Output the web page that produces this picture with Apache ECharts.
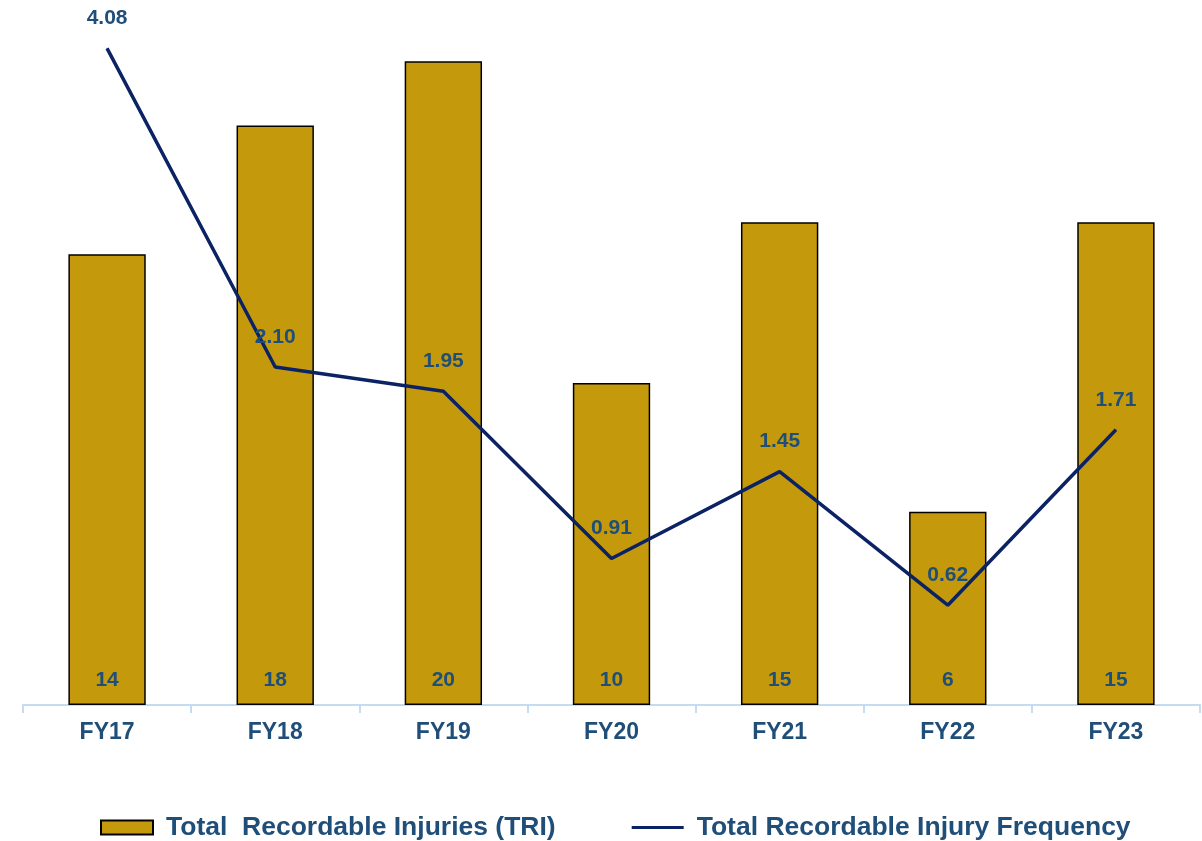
<!DOCTYPE html>
<html>
<head>
<meta charset="utf-8">
<script src="https://cdn.jsdelivr.net/npm/echarts@6/dist/echarts.min.js"></script>
<style>
  html, body { margin: 0; padding: 0; background: #fff; }
  #main { width: 1202px; height: 841px; }
</style>
</head>
<body>
<div id="main"></div>
<script>
const categories = ['FY17', 'FY18', 'FY19', 'FY20', 'FY21', 'FY22', 'FY23'];
const triValues = [14, 18, 20, 10, 15, 6, 15];
const trifValues = [4.08, 2.10, 1.95, 0.91, 1.45, 0.62, 1.71];

const navyText = '#1F4E79';
const font = 'Liberation Sans, Arial, sans-serif';

const myChart = echarts.init(document.getElementById('main'));
const option = {
  animation: false,
  textStyle: { fontFamily: font },
  grid: { left: 23, right: 2, top: 29, bottom: 136 },
  legend: {
    top: 814,
    left: 100,
    padding: 0,
    itemGap: 76,
    itemWidth: 52,
    itemHeight: 14,
    textStyle: { color: navyText, fontSize: 26.5, fontWeight: 'bold', fontFamily: font, padding: [0, 0, 0, 8] },
    data: [
      { name: 'Total  Recordable Injuries (TRI)', icon: 'rect' },
      { name: 'Total Recordable Injury Frequency', icon: 'path://M0,0 L50,0 L50,3 L0,3 Z' }
    ]
  },
  xAxis: {
    type: 'category',
    data: categories,
    axisLine: { lineStyle: { color: '#C5DCF0', width: 2 } },
    axisTick: { show: true, length: 8, lineStyle: { color: '#C5DCF0', width: 2 } },
    axisLabel: { color: navyText, fontSize: 23, fontWeight: 'bold', margin: 16 }
  },
  yAxis: [
    { type: 'value', min: 0, max: 21, show: false, splitLine: { show: false } },
    { type: 'value', min: 0, max: 4.2, show: false, splitLine: { show: false } }
  ],
  series: [
    {
      name: 'Total  Recordable Injuries (TRI)',
      type: 'bar',
      yAxisIndex: 0,
      data: triValues,
      barWidth: '46%',
      itemStyle: { color: '#C49A0C', borderColor: '#000', borderWidth: 1.5 },
      label: {
        show: true,
        position: 'insideBottom',
        distance: 14,
        color: navyText,
        fontSize: 21,
        fontWeight: 'bold'
      },
      z: 1
    },
    {
      name: 'Total Recordable Injury Frequency',
      type: 'line',
      yAxisIndex: 1,
      data: trifValues,
      symbol: 'circle',
      symbolSize: 1,
      showSymbol: true,
      lineStyle: { color: '#0B2265', width: 3.5 },
      itemStyle: { color: '#0B2265' },
      label: {
        show: true,
        position: 'top',
        distance: 19,
        color: navyText,
        fontSize: 21,
        fontWeight: 'bold',
        formatter: p => p.value.toFixed(2)
      },
      z: 3
    }
  ]
};
myChart.setOption(option);
</script>
</body>
</html>
